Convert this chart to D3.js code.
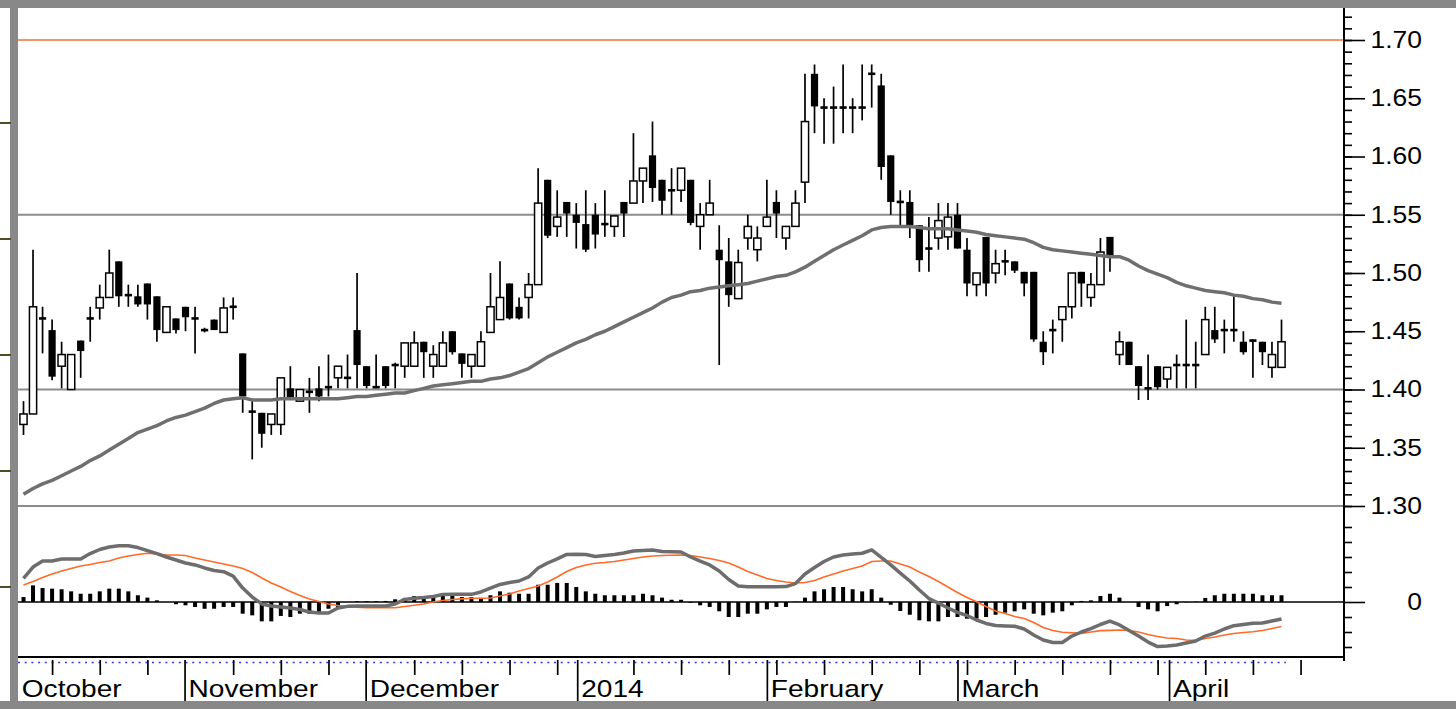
<!DOCTYPE html>
<html>
<head>
<meta charset="utf-8">
<script src="https://cdn.jsdelivr.net/npm/d3@7"></script>
<style>
  body { margin: 0; background: #fff; }
  svg { display: block; font-family: "Liberation Sans", Arial, sans-serif; }
</style>
</head>
<body>
<svg id="chart"></svg>
<script>
// daily OHLC, one entry per trading day (Oct 2013 - Apr 2014)
const opens = [
  1.370, 1.379, 1.462, 1.451, 1.420, 1.400, 1.442, 1.462, 1.470, 1.479,
  1.510, 1.482, 1.480, 1.491, 1.480, 1.449, 1.461, 1.471, 1.462, 1.452,
  1.460, 1.449, 1.472, 1.431, 1.382, 1.380, 1.370, 1.370, 1.401, 1.390,
  1.399, 1.401, 1.403, 1.410, 1.411, 1.451, 1.420, 1.403, 1.420, 1.422,
  1.420, 1.420, 1.441, 1.420, 1.420, 1.450, 1.431, 1.420, 1.420, 1.449,
  1.460, 1.491, 1.471, 1.479, 1.490, 1.580, 1.540, 1.561, 1.550, 1.542,
  1.550, 1.543, 1.540, 1.561, 1.560, 1.579, 1.601, 1.580, 1.572, 1.571,
  1.580, 1.540, 1.550, 1.520, 1.510, 1.478, 1.530, 1.520, 1.540, 1.561,
  1.530, 1.540, 1.578, 1.671, 1.643, 1.643, 1.643, 1.643, 1.643, 1.672,
  1.661, 1.601, 1.562, 1.561, 1.541, 1.522, 1.530, 1.531, 1.550, 1.520,
  1.490, 1.531, 1.500, 1.511, 1.510, 1.501, 1.501, 1.441, 1.452, 1.460,
  1.471, 1.501, 1.479, 1.490, 1.531, 1.430, 1.441, 1.420, 1.402, 1.420,
  1.409, 1.422, 1.422, 1.422, 1.430, 1.451, 1.452, 1.452, 1.441, 1.443,
  1.441, 1.419, 1.419
];
const highs = [
  1.390, 1.520, 1.471, 1.460, 1.441, 1.430, 1.442, 1.471, 1.490, 1.520,
  1.510, 1.490, 1.490, 1.491, 1.480, 1.471, 1.461, 1.471, 1.471, 1.453,
  1.460, 1.479, 1.479, 1.431, 1.390, 1.380, 1.379, 1.410, 1.420, 1.400,
  1.410, 1.420, 1.430, 1.420, 1.430, 1.500, 1.420, 1.430, 1.420, 1.423,
  1.440, 1.450, 1.441, 1.438, 1.450, 1.450, 1.431, 1.430, 1.450, 1.500,
  1.510, 1.491, 1.479, 1.500, 1.590, 1.580, 1.571, 1.561, 1.560, 1.571,
  1.560, 1.571, 1.549, 1.561, 1.620, 1.590, 1.630, 1.580, 1.590, 1.590,
  1.580, 1.560, 1.580, 1.541, 1.530, 1.520, 1.550, 1.540, 1.580, 1.571,
  1.540, 1.571, 1.671, 1.679, 1.650, 1.660, 1.679, 1.650, 1.679, 1.679,
  1.671, 1.601, 1.571, 1.571, 1.541, 1.548, 1.560, 1.560, 1.560, 1.530,
  1.500, 1.531, 1.520, 1.520, 1.510, 1.501, 1.501, 1.450, 1.460, 1.471,
  1.500, 1.501, 1.500, 1.530, 1.531, 1.450, 1.441, 1.420, 1.430, 1.420,
  1.419, 1.430, 1.460, 1.441, 1.471, 1.471, 1.460, 1.480, 1.450, 1.443,
  1.441, 1.441, 1.460
];
const lows = [
  1.361, 1.379, 1.431, 1.408, 1.401, 1.400, 1.410, 1.441, 1.460, 1.479,
  1.471, 1.471, 1.471, 1.460, 1.441, 1.449, 1.448, 1.450, 1.431, 1.449,
  1.451, 1.449, 1.460, 1.380, 1.340, 1.350, 1.361, 1.361, 1.392, 1.390,
  1.380, 1.390, 1.394, 1.401, 1.401, 1.401, 1.401, 1.401, 1.401, 1.401,
  1.410, 1.420, 1.410, 1.410, 1.420, 1.430, 1.410, 1.410, 1.420, 1.449,
  1.460, 1.460, 1.460, 1.461, 1.490, 1.530, 1.531, 1.531, 1.521, 1.518,
  1.521, 1.531, 1.531, 1.531, 1.560, 1.560, 1.561, 1.550, 1.550, 1.561,
  1.541, 1.520, 1.550, 1.421, 1.471, 1.478, 1.520, 1.510, 1.540, 1.530,
  1.520, 1.540, 1.560, 1.620, 1.611, 1.611, 1.620, 1.620, 1.631, 1.642,
  1.580, 1.550, 1.541, 1.530, 1.501, 1.501, 1.520, 1.520, 1.521, 1.480,
  1.480, 1.480, 1.491, 1.498, 1.500, 1.480, 1.441, 1.421, 1.431, 1.441,
  1.461, 1.471, 1.471, 1.490, 1.501, 1.421, 1.421, 1.391, 1.391, 1.400,
  1.401, 1.401, 1.401, 1.401, 1.430, 1.440, 1.431, 1.441, 1.430, 1.410,
  1.421, 1.410, 1.419
];
const closes = [
  1.379, 1.471, 1.460, 1.411, 1.430, 1.430, 1.433, 1.460, 1.479, 1.500,
  1.480, 1.480, 1.473, 1.473, 1.451, 1.471, 1.451, 1.462, 1.460, 1.450,
  1.451, 1.470, 1.470, 1.394, 1.380, 1.362, 1.379, 1.410, 1.392, 1.400,
  1.397, 1.394, 1.401, 1.420, 1.409, 1.421, 1.403, 1.401, 1.403, 1.420,
  1.440, 1.440, 1.432, 1.430, 1.440, 1.432, 1.422, 1.430, 1.441, 1.471,
  1.479, 1.461, 1.461, 1.490, 1.560, 1.532, 1.548, 1.551, 1.543, 1.520,
  1.533, 1.541, 1.549, 1.551, 1.579, 1.590, 1.573, 1.562, 1.570, 1.590,
  1.543, 1.550, 1.560, 1.511, 1.481, 1.509, 1.540, 1.530, 1.548, 1.551,
  1.540, 1.560, 1.630, 1.643, 1.641, 1.641, 1.641, 1.641, 1.641, 1.670,
  1.591, 1.561, 1.560, 1.541, 1.511, 1.520, 1.545, 1.548, 1.521, 1.491,
  1.500, 1.491, 1.508, 1.509, 1.502, 1.491, 1.443, 1.432, 1.450, 1.471,
  1.500, 1.491, 1.490, 1.518, 1.514, 1.441, 1.421, 1.403, 1.400, 1.402,
  1.419, 1.420, 1.420, 1.420, 1.460, 1.443, 1.450, 1.450, 1.432, 1.441,
  1.432, 1.430, 1.441
];
// moving average overlay (price)
const movingAvg = [
  1.310, 1.315, 1.319, 1.322, 1.326, 1.330, 1.334, 1.339, 1.343, 1.348,
  1.353, 1.358, 1.363, 1.366, 1.369, 1.373, 1.376, 1.378, 1.381, 1.384,
  1.388, 1.391, 1.392, 1.393, 1.391, 1.391, 1.391, 1.392, 1.392, 1.392,
  1.392, 1.392, 1.392, 1.392, 1.393, 1.394, 1.394, 1.395, 1.396, 1.397,
  1.397, 1.399, 1.401, 1.403, 1.404, 1.405, 1.406, 1.407, 1.407, 1.409,
  1.410, 1.412, 1.415, 1.418, 1.423, 1.428, 1.432, 1.436, 1.440, 1.443,
  1.447, 1.450, 1.454, 1.458, 1.462, 1.466, 1.470, 1.475, 1.479, 1.481,
  1.484, 1.485, 1.487, 1.488, 1.489, 1.490, 1.491, 1.493, 1.495, 1.497,
  1.498, 1.501, 1.505, 1.510, 1.515, 1.520, 1.524, 1.528, 1.532, 1.537,
  1.539, 1.540, 1.540, 1.540, 1.539, 1.538, 1.538, 1.538, 1.537, 1.536,
  1.535, 1.533, 1.532, 1.531, 1.530, 1.529, 1.526, 1.522, 1.520, 1.519,
  1.518, 1.517, 1.516, 1.515, 1.514, 1.514, 1.511, 1.506, 1.502, 1.499,
  1.496, 1.492, 1.489, 1.487, 1.485, 1.484, 1.483, 1.481, 1.480, 1.478,
  1.477, 1.475, 1.474
];
// MACD panel values (x 1000)
const macdLine = [
  15.7, 23.3, 27.3, 27.3, 28.7, 28.7, 28.7, 32.3, 35.0, 36.7,
  37.5, 37.5, 36.3, 34.3, 32.3, 30.0, 28.0, 26.0, 24.7, 22.7,
  21.0, 20.2, 17.3, 9.3, 3.3, -1.3, -2.7, -3.3, -4.0, -5.0,
  -6.7, -7.3, -7.3, -4.0, -2.9, -2.7, -2.7, -2.7, -2.7, -1.3,
  1.7, 2.5, 3.0, 3.7, 5.0, 5.1, 5.1, 5.1, 6.7, 9.3,
  11.7, 13.0, 14.0, 16.7, 22.7, 26.0, 28.7, 31.7, 31.8, 31.7,
  30.3, 31.0, 31.7, 32.7, 34.0, 34.3, 34.7, 33.7, 33.5, 33.3,
  30.0, 27.3, 24.7, 20.7, 15.0, 10.7, 10.2, 10.2, 10.2, 10.2,
  10.3, 12.3, 18.7, 23.0, 27.0, 30.0, 31.3, 32.0, 32.5, 34.7,
  29.7, 24.7, 19.3, 14.0, 8.0, 2.3, -0.7, -4.0, -6.9, -9.0,
  -12.0, -14.3, -15.7, -16.0, -16.2, -18.0, -22.0, -25.3, -27.0, -27.0,
  -22.7, -20.0, -17.7, -15.0, -12.7, -15.3, -19.0, -22.7, -26.7, -29.7,
  -29.3, -28.7, -27.3, -26.0, -22.7, -20.7, -18.0, -15.8, -15.0, -14.2,
  -14.0, -12.7, -11.3
];
const signalLine = [
  11.3, 13.7, 16.3, 18.7, 20.7, 22.3, 24.0, 25.0, 26.3, 27.3,
  29.3, 30.7, 31.7, 32.5, 32.0, 31.3, 31.3, 31.0, 29.3, 28.0,
  26.7, 25.3, 24.0, 22.3, 19.7, 16.0, 12.7, 10.0, 7.0, 4.3,
  2.0, 0.3, -1.3, -2.3, -3.0, -3.5, -3.8, -3.8, -3.8, -3.8,
  -3.0, -2.2, -1.3, 0.0, 1.0, 1.7, 2.1, 2.5, 2.5, 2.7,
  4.0, 5.3, 7.3, 9.0, 10.7, 13.3, 16.7, 20.3, 23.0, 24.7,
  25.8, 26.3, 27.0, 28.0, 29.0, 30.0, 30.7, 31.0, 31.2, 31.3,
  31.0, 30.0, 29.0, 27.7, 26.0, 23.3, 20.3, 18.0, 15.7, 14.3,
  13.3, 12.7, 13.0, 14.3, 16.7, 18.7, 20.7, 22.3, 24.0, 27.0,
  27.3, 27.3, 25.3, 23.3, 20.0, 17.0, 13.7, 10.0, 6.3, 3.0,
  0.2, -3.0, -6.0, -7.7, -9.7, -11.0, -13.7, -17.0, -19.0, -20.2,
  -20.5, -20.9, -20.0, -19.1, -18.9, -18.7, -19.0, -20.0, -21.7, -23.0,
  -24.0, -24.3, -25.3, -25.7, -24.3, -23.3, -22.0, -21.0, -20.3, -19.8,
  -19.0, -17.7, -16.3
];
const histogram = [
  3.3, 11.1, 9.3, 8.9, 8.5, 7.1, 5.5, 5.5, 7.1, 8.9,
  8.9, 7.1, 4.5, 2.9, 1.1, 0.0, -1.5, -2.2, -3.3, -4.5,
  -4.5, -3.3, -3.3, -7.8, -8.9, -12.9, -12.9, -9.3, -10.0, -7.8,
  -7.8, -6.7, -4.5, -3.3, 0.0, 0.5, 0.5, 0.5, 0.7, 1.8,
  2.7, 4.0, 4.0, 4.0, 4.5, 4.5, 3.3, 3.3, 2.7, 4.5,
  7.1, 6.2, 5.5, 5.5, 11.5, 11.5, 12.7, 12.7, 10.0, 7.1,
  5.5, 4.5, 4.5, 4.5, 4.5, 5.5, 4.5, 2.9, 1.5, 1.5,
  -0.5, -2.2, -3.3, -6.2, -10.0, -10.0, -7.8, -7.8, -4.9, -3.3,
  -3.3, 0.2, 2.9, 7.1, 8.5, 10.0, 10.0, 8.5, 7.1, 8.5,
  2.9, -1.8, -6.0, -8.5, -12.2, -12.9, -12.9, -10.0, -10.0, -11.1,
  -11.1, -10.0, -8.5, -7.1, -6.2, -4.9, -7.8, -8.9, -7.1, -6.2,
  -2.2, 0.7, 1.1, 4.0, 5.5, 2.9, 0.0, -3.3, -4.9, -6.2,
  -2.7, -1.5, -0.2, 0.2, 2.7, 4.5, 5.5, 5.5, 5.5, 5.5,
  4.5, 4.5, 4.5
];
// time axis: label text and day position of each month start, weekly ticks
const monthLabels = ['October', 'November', 'December', '2014', 'February', 'March', 'April'];
const monthTicks = [-0.6, 16.9, 35.9, 58.1, 78, 98, 120.2];
const weekTicks = [3, 8, 13, 22, 27, 32, 41, 46, 51, 56, 64, 69, 74, 79, 84, 89, 94, 99, 104, 109, 114, 119, 124, 129, 134];
// horizontal reference lines
const supportLevels = [1.30, 1.40, 1.55];
const targetLevel = 1.70;
const priceTicks = [1.30, 1.35, 1.40, 1.45, 1.50, 1.55, 1.60, 1.65, 1.70];

class StockChart {

    constructor(_config) {
        this.config = {
            parentElement: _config.parentElement,
            containerWidth: _config.containerWidth || 1456,
            containerHeight: _config.containerHeight || 709,
            plotLeft: 18,
            plotRight: 1344,
            priceRange: [506, 40],
            macdZero: 602,
            xAxisY: 657
        }
        this.initVis();
    }

    /**
     * Scales, frame and static elements
     */
    initVis() {
        let vis = this;
        const c = vis.config;

        vis.svg = d3.select(c.parentElement)
            .attr('width', c.containerWidth)
            .attr('height', c.containerHeight);

        vis.xScale = d3.scaleLinear()
            .domain([0, closes.length - 1])
            .range([23.5, 1281.5]);

        vis.yScale = d3.scaleLinear()
            .domain([1.30, 1.70])
            .range(c.priceRange);

        // 0.010 of MACD = 15px
        vis.macdScale = d3.scaleLinear()
            .domain([0, 10])
            .range([c.macdZero, c.macdZero - 15]);

        vis.chart = vis.svg.append('g');
        vis.renderVis();
    }

    renderVis() {
        let vis = this;
        const c = vis.config;
        const x = vis.xScale, y = vis.yScale, m = vis.macdScale;

        // level lines
        vis.chart.selectAll('.level')
            .data(supportLevels)
            .join('line')
            .attr('class', 'level')
            .attr('x1', c.plotLeft).attr('x2', c.plotRight)
            .attr('y1', d => y(d)).attr('y2', d => y(d))
            .attr('stroke', '#8c8c8c')
            .attr('stroke-width', 2);

        vis.chart.append('line')
            .attr('x1', c.plotLeft).attr('x2', c.plotRight)
            .attr('y1', y(targetLevel)).attr('y2', y(targetLevel))
            .attr('stroke', '#f4702f')
            .attr('stroke-width', 1.6);

        const candles = d3.range(closes.length).map(i => ({
            i: i, o: opens[i], h: highs[i], l: lows[i], c: closes[i]
        }));

        // wicks
        vis.chart.selectAll('.wick')
            .data(candles)
            .join('line')
            .attr('class', 'wick')
            .attr('x1', d => x(d.i)).attr('x2', d => x(d.i))
            .attr('y1', d => y(d.h)).attr('y2', d => y(d.l))
            .attr('stroke', '#000')
            .attr('stroke-width', 1.7);

        // bodies: white when up, black when down
        vis.chart.selectAll('.body')
            .data(candles)
            .join('rect')
            .attr('class', 'body')
            .attr('x', d => x(d.i) - 3.6)
            .attr('width', 7.2)
            .attr('y', d => {
                const top = y(Math.max(d.o, d.c)), bot = y(Math.min(d.o, d.c));
                return bot - top < 2.6 ? (top + bot) / 2 - 1.3 : top;
            })
            .attr('height', d => Math.max(2.6, Math.abs(y(d.o) - y(d.c))))
            .attr('fill', d => d.c > d.o ? '#fff' : '#000')
            .attr('stroke', '#000')
            .attr('stroke-width', d => d.c > d.o ? 1.5 : 0);

        // moving average
        const maLine = d3.line()
            .x((d, i) => x(i))
            .y(d => y(d));

        vis.chart.append('path')
            .datum(movingAvg)
            .attr('d', maLine)
            .attr('fill', 'none')
            .attr('stroke', '#6f6f6f')
            .attr('stroke-width', 3.5)
            .attr('stroke-linejoin', 'round');

        // MACD panel
        vis.chart.append('line')
            .attr('x1', c.plotLeft).attr('x2', c.plotRight)
            .attr('y1', m(0)).attr('y2', m(0))
            .attr('stroke', '#000')
            .attr('stroke-width', 1.6);

        vis.chart.selectAll('.hist')
            .data(histogram)
            .join('rect')
            .attr('class', 'hist')
            .attr('x', (d, i) => x(i) - 2)
            .attr('width', 4)
            .attr('y', d => Math.min(m(d), m(0)))
            .attr('height', d => Math.abs(m(d) - m(0)))
            .attr('fill', '#000');

        const macdPath = d3.line()
            .x((d, i) => x(i))
            .y(d => m(d));

        vis.chart.append('path')
            .datum(signalLine)
            .attr('d', macdPath)
            .attr('fill', 'none')
            .attr('stroke', '#ff6a28')
            .attr('stroke-width', 1.6);

        vis.chart.append('path')
            .datum(macdLine)
            .attr('d', macdPath)
            .attr('fill', 'none')
            .attr('stroke', '#6d6d6d')
            .attr('stroke-width', 3.5)
            .attr('stroke-linejoin', 'round');

        // right price axis
        const axisG = vis.chart.append('g')
            .attr('transform', `translate(${c.plotRight},0)`);

        axisG.append('g')
            .call(d3.axisRight(y)
                .tickValues(d3.range(130, 173).map(v => v / 100))
                .tickSize(8)
                .tickFormat(''));

        const major = axisG.append('g')
            .call(d3.axisRight(y)
                .tickValues(priceTicks)
                .tickSize(21)
                .tickFormat(d3.format('.2f')));

        axisG.append('g')
            .call(d3.axisRight(m)
                .tickValues([-30, -20, -10, 10, 20, 30, 40, 50])
                .tickSize(8)
                .tickFormat(''));

        const zeroAxis = axisG.append('g')
            .call(d3.axisRight(m)
                .tickValues([0])
                .tickSize(21)
                .tickFormat(d3.format('d')));

        axisG.selectAll('.domain').remove();
        axisG.append('line')
            .attr('y1', 8).attr('y2', 661)
            .attr('stroke', '#000')
            .attr('stroke-width', 2);

        axisG.selectAll('.tick line').attr('stroke-width', 1.6);
        [major, zeroAxis].forEach(g => g.selectAll('.tick text')
            .attr('x', 78 / 1.15)
            .attr('text-anchor', 'end')
            .attr('transform', 'scale(1.15,1)')
            .attr('fill', '#000')
            .style('font-size', '23px')
            .style('font-family', '"Liberation Sans", Arial, sans-serif'));

        // time axis
        vis.chart.append('line')
            .attr('x1', c.plotLeft).attr('x2', c.plotRight)
            .attr('y1', c.xAxisY).attr('y2', c.xAxisY)
            .attr('stroke', '#000')
            .attr('stroke-width', 2);

        vis.chart.append('line')
            .attr('x1', c.plotLeft).attr('x2', 1286)
            .attr('y1', 662.5).attr('y2', 662.5)
            .attr('stroke', '#2b3de0')
            .attr('stroke-width', 1.3)
            .attr('stroke-dasharray', '2,4.7');

        const timeG = vis.chart.append('g')
            .attr('transform', `translate(0,${c.xAxisY + 3})`);

        timeG.append('g')
            .call(d3.axisBottom(x).tickValues(weekTicks).tickSize(15).tickFormat(''));

        timeG.append('g')
            .call(d3.axisBottom(x).tickValues(monthTicks.slice(1)).tickSize(42).tickFormat(''));

        timeG.selectAll('.domain').remove();
        timeG.selectAll('.tick line').attr('stroke-width', 1.7);

        vis.chart.selectAll('.month-label')
            .data(monthLabels)
            .join('text')
            .attr('class', 'month-label')
            .attr('transform', (d, i) => `translate(${x(monthTicks[i]) + 4},697) scale(1.17,1)`)
            .style('font-size', '24px')
            .text(d => d);

        // frame
        vis.svg.append('rect')
            .attr('x', 0).attr('y', 0)
            .attr('width', c.containerWidth).attr('height', 8)
            .attr('fill', '#888');
        vis.svg.append('rect')
            .attr('x', 10).attr('y', 0)
            .attr('width', 8).attr('height', c.containerHeight)
            .attr('fill', '#888');
        vis.svg.append('rect')
            .attr('x', 0).attr('y', 701)
            .attr('width', c.containerWidth).attr('height', 8)
            .attr('fill', '#888');
        vis.svg.selectAll('.stub')
            .data([123, 239, 355, 471, 587])
            .join('line')
            .attr('class', 'stub')
            .attr('x1', 0).attr('x2', 11)
            .attr('y1', d => d).attr('y2', d => d)
            .attr('stroke', '#4e4e22')
            .attr('stroke-width', 2);
    }
}

new StockChart({ parentElement: '#chart' });
</script>
</body>
</html>
